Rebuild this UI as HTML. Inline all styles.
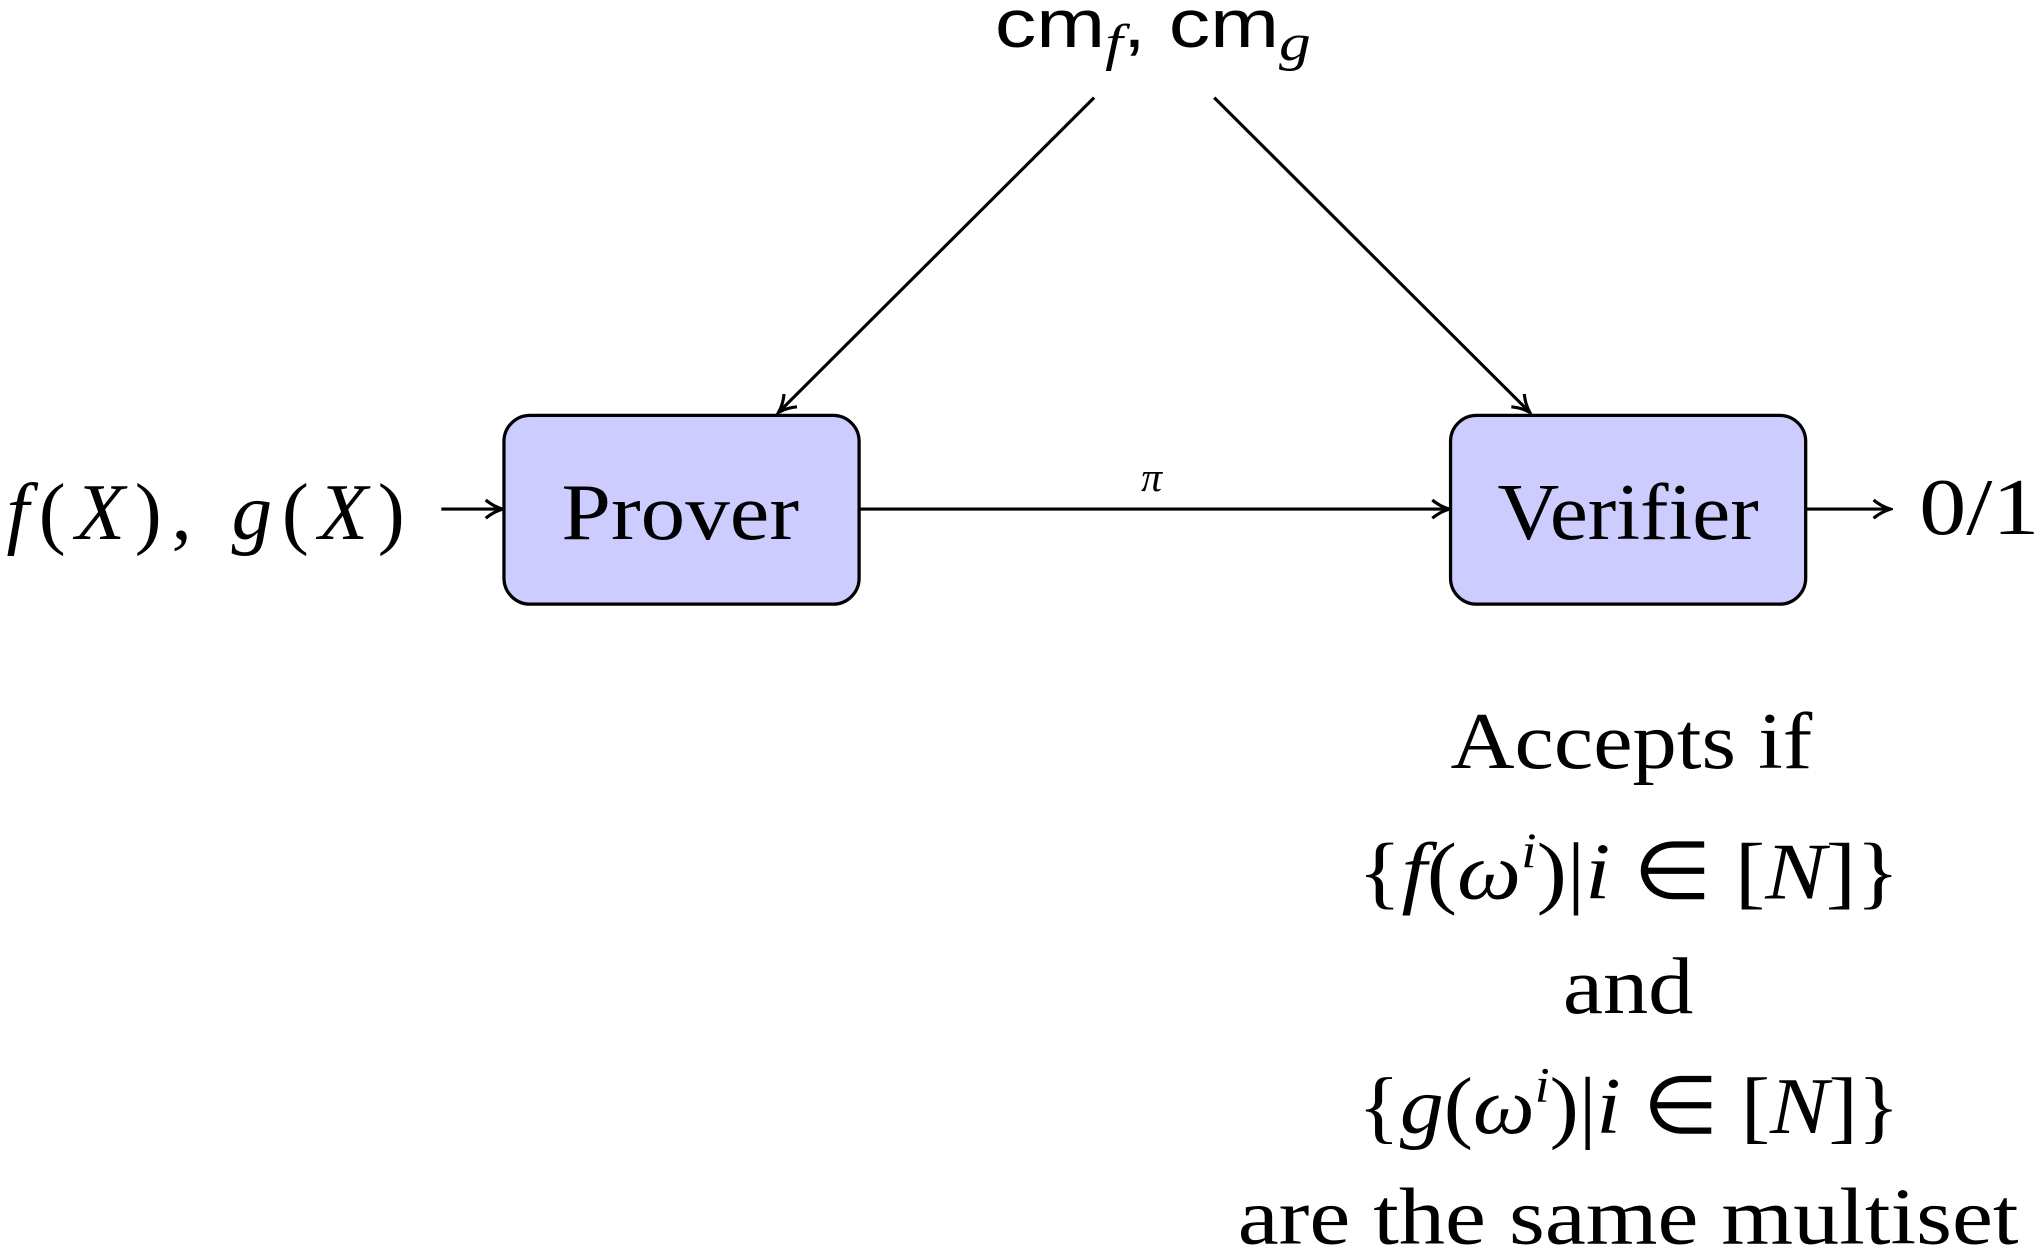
<!DOCTYPE html>
<html><head><meta charset="utf-8"><style>
html,body{margin:0;padding:0;background:#fff;}
svg{display:block}
.s{font-family:"Liberation Serif",serif;font-size:62px;fill:#000}
.i{font-style:italic}
</style></head><body>
<svg width="2042" height="1250" viewBox="0 0 1564 960" preserveAspectRatio="none" xmlns="http://www.w3.org/2000/svg">
<defs><marker id="ah" markerWidth="18" markerHeight="18" refX="15" refY="9" orient="auto" markerUnits="userSpaceOnUse"><path d="M3,2 Q9,7 16,9 Q9,11 3,16" fill="none" stroke="#000" stroke-width="2.4"/></marker></defs>
<text x="762" y="36" font-family="Liberation Sans, sans-serif" font-size="52" textLength="242" lengthAdjust="spacingAndGlyphs">cm<tspan class="i" font-family="Liberation Serif, serif" font-size="40" dy="10">f</tspan><tspan dy="-10">, cm</tspan><tspan class="i" font-family="Liberation Serif, serif" font-size="40" dy="10">g</tspan></text>
<line x1="838" y1="75" x2="597" y2="316" stroke="#000" stroke-width="2.4" marker-end="url(#ah)"/>
<line x1="930" y1="75" x2="1171" y2="316" stroke="#000" stroke-width="2.4" marker-end="url(#ah)"/>
<rect x="386" y="319" width="272" height="145" rx="20" fill="#ccccff" stroke="#000" stroke-width="2.5"/>
<text class="s" x="430" y="414" textLength="182" lengthAdjust="spacingAndGlyphs">Prover</text>
<rect x="1111" y="319" width="272" height="145" rx="20" fill="#ccccff" stroke="#000" stroke-width="2.5"/>
<text class="s" x="1147" y="414" textLength="200" lengthAdjust="spacingAndGlyphs">Verifier</text>
<text class="s" x="5" y="414" textLength="305"><tspan class="i">f</tspan>(<tspan class="i">X</tspan>), <tspan class="i">g</tspan>(<tspan class="i">X</tspan>)</text>
<line x1="338" y1="391" x2="384" y2="391" stroke="#000" stroke-width="2.4" marker-end="url(#ah)"/>
<line x1="658" y1="391" x2="1109" y2="391" stroke="#000" stroke-width="2.4" marker-end="url(#ah)"/>
<text class="s i" x="882" y="377" text-anchor="middle" style="font-size:32px">π</text>
<line x1="1383" y1="391" x2="1447" y2="391" stroke="#000" stroke-width="2.4" marker-end="url(#ah)"/>
<text class="s" x="1470" y="410" textLength="92" lengthAdjust="spacingAndGlyphs">0/1</text>
<g class="s">
<text x="1111" y="590" textLength="277" lengthAdjust="spacingAndGlyphs">Accepts if</text>
<text x="1040" y="690" textLength="415" lengthAdjust="spacingAndGlyphs">{<tspan class="i">f</tspan>(<tspan class="i">ω</tspan><tspan class="i" font-size="38" dy="-24">i</tspan><tspan dy="24">)|</tspan><tspan class="i">i</tspan> ∈ [<tspan class="i">N</tspan>]}</text>
<text x="1197" y="778" textLength="100" lengthAdjust="spacingAndGlyphs">and</text>
<text x="1040" y="870" textLength="415" lengthAdjust="spacingAndGlyphs">{<tspan class="i">g</tspan>(<tspan class="i">ω</tspan><tspan class="i" font-size="38" dy="-24">i</tspan><tspan dy="24">)|</tspan><tspan class="i">i</tspan> ∈ [<tspan class="i">N</tspan>]}</text>
<text x="948" y="955" textLength="598" lengthAdjust="spacingAndGlyphs">are the same multiset</text>
</g>
</svg>
</body></html>
